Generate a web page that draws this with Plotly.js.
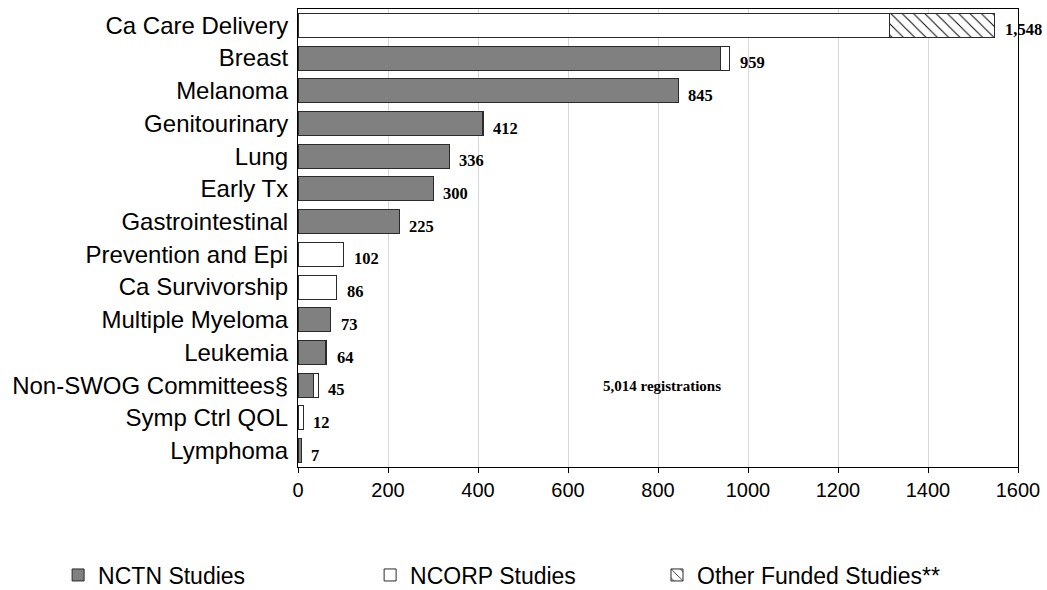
<!DOCTYPE html>
<html>
<head>
<meta charset="utf-8">
<script src="https://cdn.plot.ly/plotly-3.0.1.min.js"></script>
<style>html,body{margin:0;padding:0;background:#fff;}#chart{width:1047px;height:590px;}</style>
</head>
<body>
<div id="chart"></div>
<script>
const categories = ["Ca Care Delivery","Breast","Melanoma","Genitourinary","Lung","Early Tx","Gastrointestinal","Prevention and Epi","Ca Survivorship","Multiple Myeloma","Leukemia","Non-SWOG Committees§","Symp Ctrl QOL","Lymphoma"];
const nctnStudies = [null,939,845,409,336,300,225,null,null,73,61,35,null,7];
const ncorpStudies = [1315,20,null,3,null,null,null,102,86,null,3,10,12,null];
const otherFunded = [233,null,null,null,null,null,null,null,null,null,null,null,null,null];
const totalLabels = ["1,548","959","845","412","336","300","225","102","86","73","64","45","12","7"];
const xTicks = [0,200,400,600,800,1000,1200,1400,1600];
const totalNote = "5,014 registrations";
const notePosition = {x:809, category:"Non-SWOG Committees§"};

const totals = categories.map((c,i)=>(nctnStudies[i]||0)+(ncorpStudies[i]||0)+(otherFunded[i]||0));
const lineStyle = {color:'#2b2b2b', width:1};
const sans = 'Liberation Sans, Arial, sans-serif';
const serif = 'Liberation Serif, Times New Roman, serif';

const traces = [
  {type:'bar', orientation:'h', name:'NCTN Studies', y:categories, x:nctnStudies,
   marker:{color:'#808080', line:lineStyle}, legend:'legend', hoverinfo:'x+y'},
  {type:'bar', orientation:'h', name:'NCORP Studies', y:categories, x:ncorpStudies,
   marker:{color:'#ffffff', line:lineStyle}, legend:'legend2', hoverinfo:'x+y'},
  {type:'bar', orientation:'h', name:'Other Funded Studies**', y:categories, x:otherFunded,
   marker:{color:'#ffffff', line:lineStyle, pattern:{shape:'\\', fgcolor:'#000000', bgcolor:'#ffffff', size:8, solidity:0.12}},
   legend:'legend3', hoverinfo:'x+y'}
];

const annotations = categories.map((c,i)=>({
  x: totals[i], y: c, xref:'x', yref:'y', text: '<b>'+totalLabels[i]+'</b>', showarrow:false,
  xanchor:'left', yanchor:'middle', xshift:8, yshift:-4.5,
  font:{family:serif, size:16.5, color:'#000'}
}));
annotations.push({x:notePosition.x, y:notePosition.category, xref:'x', yref:'y', text:'<b>'+totalNote+'</b>', showarrow:false,
  xanchor:'center', yanchor:'middle', yshift:-1,
  font:{family:serif, size:15, color:'#000'}});

const legendBase = {orientation:'h', xref:'container', yref:'container', xanchor:'left', yanchor:'middle',
  font:{family:sans, size:23, color:'#000'}, bgcolor:'rgba(0,0,0,0)', borderwidth:0};

const layout = {
  width:1047, height:590,
  margin:{l:298, r:29, t:9, b:123},
  paper_bgcolor:'#fff', plot_bgcolor:'#fff',
  barmode:'stack', bargap:0.27,
  showlegend:true,
  xaxis:{range:[0,1600], tickvals:xTicks, ticktext:xTicks.map(String), showgrid:true, gridcolor:'#d9d9d9', gridwidth:1,
    showline:true, linecolor:'#000', linewidth:1, mirror:true, ticks:'outside', ticklen:5, tickcolor:'#000',
    zeroline:false, tickfont:{family:sans, size:20, color:'#000'}},
  yaxis:{type:'category', autorange:'reversed', showline:true, linecolor:'#000', linewidth:1, mirror:true,
    ticks:'', showgrid:false, zeroline:false, ticklabelstandoff:4,
    tickfont:{family:sans, size:24, color:'#000'}},
  annotations: annotations,
  legend: Object.assign({}, legendBase, {x:0.0555, y:0.0254}),
  legend2: Object.assign({}, legendBase, {x:0.3535, y:0.0254}),
  legend3: Object.assign({}, legendBase, {x:0.6275, y:0.0254})
};

Plotly.newPlot('chart', traces, layout, {displayModeBar:false, staticPlot:true});
</script>
</body>
</html>
